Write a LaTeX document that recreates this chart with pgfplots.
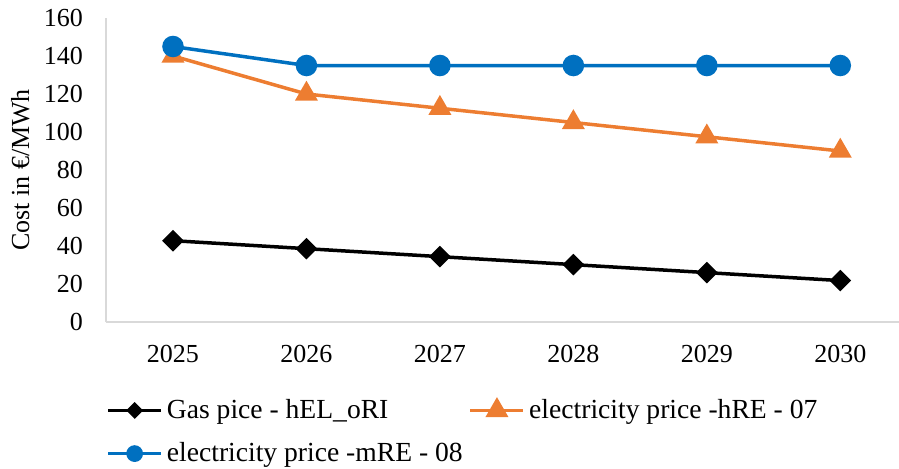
\documentclass[border=0pt]{standalone}
\usepackage{fontspec}
\setmainfont{Liberation Serif}
\usepackage{pgfplots}
\pgfplotsset{compat=1.18}

\definecolor{elblue}{HTML}{0070C0}
\definecolor{elorange}{HTML}{ED7D31}
\definecolor{axgray}{HTML}{D9D9D9}

\begin{document}
\begin{tikzpicture}[font=\fontsize{13}{15.5}\selectfont]
\useasboundingbox (0,0) rectangle (449.5pt,234pt);
\begin{axis}[
  at={(53pt,73pt)}, anchor=south west,
  scale only axis,
  width=396.5pt, height=152pt,
  xmin=-0.502, xmax=5.44,
  ymin=0, ymax=160,
  ytick={0,20,...,160},
  xtick={0,1,2,3,4,5},
  xticklabels={2025,2026,2027,2028,2029,2030},
  axis x line*=bottom,
  axis y line*=left,
  axis line style={draw=axgray, line width=0.75pt},
  major tick length=0pt,
  /pgf/number format/assume math mode=true,
  tick label style={font=\fontsize{13}{15.5}\selectfont},
  yticklabel style={xshift=-8pt},
  xticklabel style={yshift=-8pt},
  ylabel={Cost in €/MWh},
  ylabel style={at={(axis description cs:-0.108,0.5)}, anchor=center, rotate=0,
    font=\fontsize{13}{15.5}\selectfont},
  clip=false,
  legend columns=2,
  legend cell align=left,
  legend style={
    at={(axis description cs:0.0,-0.24)}, anchor=north west,
    draw=none, fill=none, inner sep=0pt,
    font=\fontsize{13.8}{16.5}\selectfont,
    row sep=6.5pt,
    /tikz/every even column/.append style={column sep=1pt},
  },
  legend image code/.code={%
    \draw[mark repeat=2,mark phase=2] plot coordinates {(0pt,0pt)(13.25pt,0pt)(26.5pt,0pt)};},
]
% gas price, linear decline
\addplot[black, line width=1.75pt, mark=square*,
  mark options={solid, fill=black, rotate=45, mark size=2.95pt},
  legend image post style={mark options={solid, fill=black, rotate=45, mark size=2.1pt}}]
  coordinates {(0,42.8) (1,38.6) (2,34.4) (3,30.2) (4,26.0) (5,21.8)};
\addlegendentry{Gas pice - hEL\_oRI}
% electricity price, high renewables
\addplot[elorange, line width=1.75pt, mark=triangle*,
  mark options={solid, fill=elorange, mark size=4.9pt}]
  coordinates {(0,140) (1,120) (2,112.5) (3,105) (4,97.5) (5,90)};
\addlegendentry{electricity price -hRE - 07}
% electricity price, medium renewables
\addplot[elblue, line width=1.75pt, mark=*,
  mark options={solid, fill=elblue, mark size=4.5pt},
  legend image post style={mark options={solid, fill=elblue, mark size=3.3pt}}]
  coordinates {(0,145) (1,135) (2,135) (3,135) (4,135) (5,135)};
\addlegendentry{electricity price -mRE - 08}
\end{axis}
\end{tikzpicture}
\end{document}
